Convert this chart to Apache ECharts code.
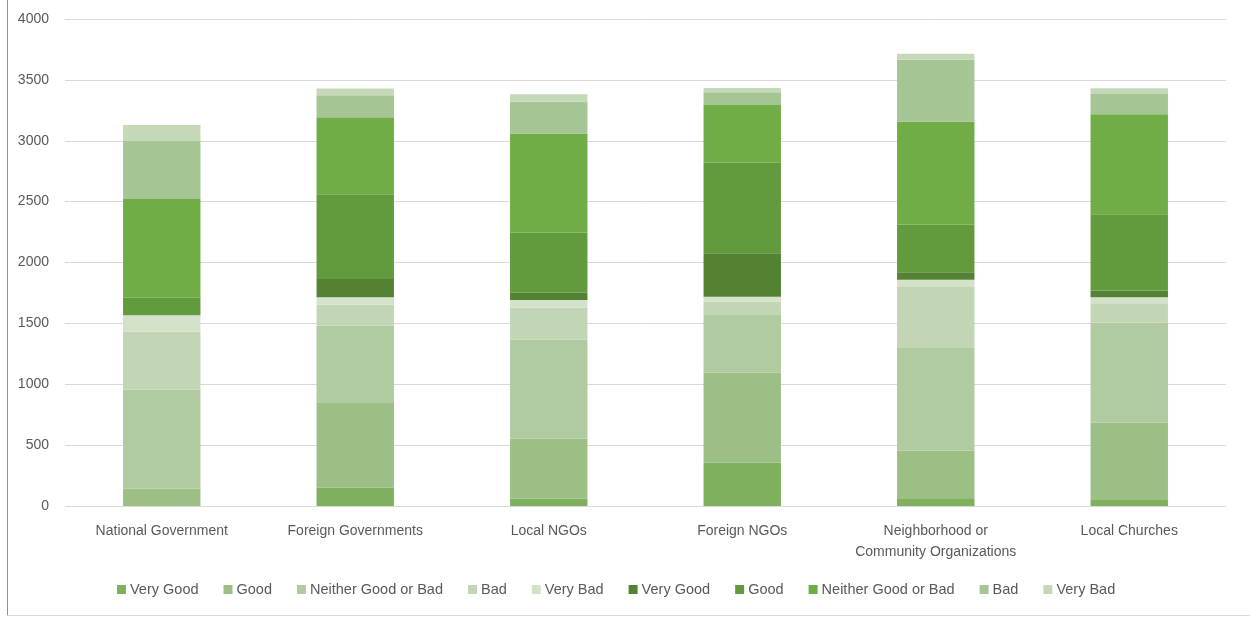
<!DOCTYPE html>
<html>
<head>
<meta charset="utf-8">
<script src="https://cdn.jsdelivr.net/npm/echarts@6/dist/echarts.min.js"></script>
<style>
  html, body { margin: 0; padding: 0; background: #fff; }
  #wrap { position: relative; width: 1250px; height: 617px; }
  #chart { position: absolute; left: 0; top: 0; width: 1250px; height: 617px; }
  #frameL { position: absolute; left: 7px; top: 0; width: 0; height: 616px; border-left: 1px solid #8f8f8f; }
  #frameB { position: absolute; left: 7px; top: 615px; width: 1243px; height: 0; border-top: 1px solid #d6d6d6; }
</style>
</head>
<body>
<div id="wrap">
  <div id="chart"></div>
  <div id="frameL"></div>
  <div id="frameB"></div>
</div>
<script>
// Categories
const categories = ['National Government', 'Foreign Governments', 'Local NGOs', 'Foreign NGOs', 'Neighborhood or\nCommunity Organizations', 'Local Churches'];
const yTicks = [0, 500, 1000, 1500, 2000, 2500, 3000, 3500, 4000];

// First group (lighter shades, bottom of stack)
const veryGood1 = [0, 152, 62, 356, 58, 55];
const good1     = [141, 693, 493, 740, 396, 629];
const neither1  = [816, 636, 810, 479, 844, 822];
const bad1      = [474, 172, 264, 103, 506, 160];
const veryBad1  = [136, 61, 63, 40, 55, 49];

// Second group (darker shades, top of stack)
const veryGood2 = [0, 150, 60, 357, 60, 54];
const good2     = [143, 697, 493, 744, 392, 628];
const neither2  = [812, 632, 814, 475, 848, 821];
const bad2      = [476, 180, 261, 104, 507, 165];
const veryBad2  = [131, 57, 61, 35, 48, 49];

const seriesNames = ['Very Good', 'Good', 'Neither Good or Bad', 'Bad', 'Very Bad'];
const colors = ['#7fb05e', '#9cbf86', '#afcb9f', '#c2d6b6', '#d4e2ca',
                '#548235', '#629a3e', '#70ad47', '#a5c594', '#c5d9b9'];

const dataSets = [veryGood1, good1, neither1, bad1, veryBad1, veryGood2, good2, neither2, bad2, veryBad2];

const series = dataSets.map((d, i) => ({
  name: seriesNames[i % 5] + (i >= 5 ? ' ' : ''),
  type: 'bar',
  stack: 'total',
  barWidth: '40%',
  data: d,
  itemStyle: { color: colors[i] },
  emphasis: { disabled: true }
}));

const legendData = series.map(s => s.name);

const chart = echarts.init(document.getElementById('chart'), null, { renderer: 'canvas' });
chart.setOption({
  animation: false,
  backgroundColor: '#ffffff',
  color: colors,
  textStyle: { fontFamily: 'Liberation Sans, Arial, sans-serif' },
  grid: { left: 65, right: 24, top: 19, bottom: 111, containLabel: false },
  legend: {
    data: legendData,
    top: 577,
    left: 112,
    itemWidth: 9,
    itemHeight: 9,
    itemGap: 25,
    icon: 'rect',
    textStyle: { color: '#595959', fontSize: 14.5, padding: [0, 0, 0, -1] },
    formatter: n => n.trim()
  },
  xAxis: {
    type: 'category',
    data: categories,
    axisLine: { show: false },
    axisTick: { show: false },
    axisLabel: { color: '#595959', fontSize: 14, margin: 15, lineHeight: 21, interval: 0 }
  },
  yAxis: {
    type: 'value',
    min: yTicks[0],
    max: yTicks[yTicks.length - 1],
    interval: 500,
    axisLine: { show: false },
    axisTick: { show: false },
    axisLabel: { color: '#595959', fontSize: 14, margin: 16, formatter: v => String(v) },
    splitLine: { lineStyle: { color: '#d9d9d9', width: 1 } }
  },
  series: series
});
</script>
</body>
</html>
